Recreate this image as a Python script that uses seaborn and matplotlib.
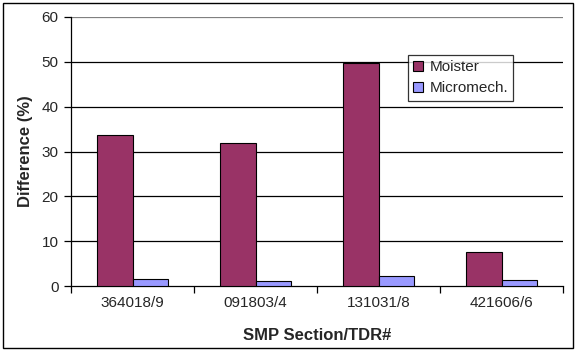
import matplotlib
matplotlib.use("Agg")
import matplotlib.pyplot as plt
import seaborn as sns
import pandas as pd
from matplotlib.patches import Rectangle

categories = ["364018/9", "091803/4", "131031/8", "421606/6"]
moister = [33.7, 31.9, 49.8, 7.6]
micromech = [1.6, 1.1, 2.2, 1.3]
series_names = ["Moister", "Micromech."]

df = pd.DataFrame({
    "cat": categories * 2,
    "val": moister + micromech,
    "series": [series_names[0]] * 4 + [series_names[1]] * 4,
})

sns.set_style("white")
plt.rcParams["font.family"] = ["Liberation Sans", "DejaVu Sans"]

fig = plt.figure(figsize=(5.77, 3.55), dpi=100)
ax = fig.add_axes([71/577, 1-286/355, (563-71)/577, (286-17)/355])

sns.barplot(data=df, x="cat", y="val", hue="series", order=categories,
            hue_order=series_names, palette=["#993366", "#9999FF"],
            width=0.58, edgecolor="black", linewidth=0.8, saturation=1,
            ax=ax, zorder=3)

ax.set_ylim(0, 60)
ax.set_yticks(range(0, 61, 10))
ax.set_xlim(-0.5, 3.5)
for y in range(10, 60, 10):
    ax.axhline(y, color="black", linewidth=0.9, zorder=1)
ax.axhline(60, color="#808080", linewidth=0.9, zorder=1)

for s in ["top", "right"]:
    ax.spines[s].set_visible(False)
ax.spines["left"].set_color("black")
ax.spines["left"].set_linewidth(0.9)
ax.spines["bottom"].set_color("black")
ax.spines["bottom"].set_linewidth(0.9)

ax.tick_params(axis="y", direction="out", length=5, width=0.9, color="black",
               labelsize=11, pad=4, left=True)
ax.set_xticks([-0.5, 0.5, 1.5, 2.5, 3.5], minor=True)
ax.tick_params(axis="x", which="major", length=0, labelsize=11, pad=7)
ax.tick_params(axis="x", which="minor", direction="out", length=5, width=0.9,
               color="black", bottom=True)

ax.set_xlabel("SMP Section/TDR#", fontsize=12, fontweight="bold", labelpad=13)
ax.set_ylabel("Difference (%)", fontsize=12, fontweight="bold", labelpad=6)

leg = ax.legend(loc="upper left", bbox_to_anchor=((408-71)/492, (286-55)/269),
                fontsize=11, frameon=True, fancybox=False, edgecolor="black",
                handlelength=0.65, handleheight=0.65, handletextpad=0.4,
                borderpad=0.35, labelspacing=0.45, borderaxespad=0)
leg.get_frame().set_linewidth(0.9)
leg.set_zorder(5)

fig.patches.append(Rectangle((3/577, 1-348/355), 570/577, 345/355,
                             transform=fig.transFigure, fill=False,
                             edgecolor="black", linewidth=1.0))

fig.savefig("out.png", dpi=100)
